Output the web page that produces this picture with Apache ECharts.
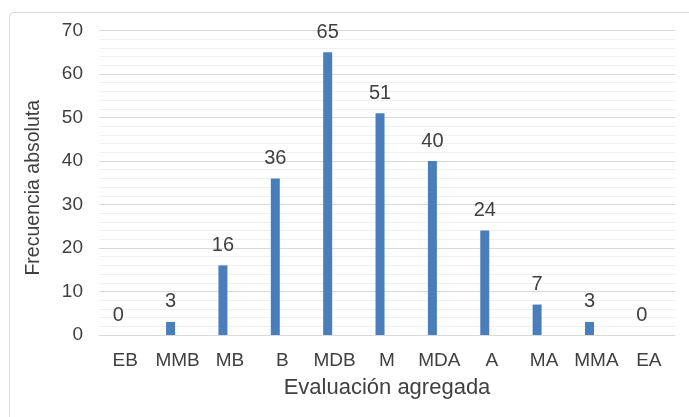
<!DOCTYPE html>
<html>
<head>
<meta charset="utf-8">
<script src="https://cdn.jsdelivr.net/npm/echarts@6/dist/echarts.min.js"></script>
<style>
html,body{margin:0;padding:0;background:#fff;}
#chart{width:689px;height:417px;}
</style>
</head>
<body>
<div id="chart"></div>
<script>
const categories = ['EB','MMB','MB','B','MDB','M','MDA','A','MA','MMA','EA'];
const values = [0,3,16,36,65,51,40,24,7,3,0];
const yTicks = {min:0, max:70, interval:10};
const xTitle = 'Evaluación agregada';
const yTitle = 'Frecuencia absoluta';

const chart = echarts.init(document.getElementById('chart'), null, {renderer:'canvas'});
const textColor = '#404040';
const font = 'Liberation Sans, Arial, sans-serif';
chart.setOption({
  animation:false,
  backgroundColor:'#ffffff',
  graphic:[{
    type:'rect', left:7, top:10,
    shape:{width:700, height:420, r:4},
    style:{fill:'none', stroke:'#d9d9d9', lineWidth:1}
  }],
  grid:{left:99, right:14, top:30.5, bottom:82, containLabel:false},
  xAxis:{
    type:'category', data:categories,
    axisLine:{show:true, lineStyle:{color:'#d9d9d9', width:1}},
    axisTick:{show:false},
    axisLabel:{color:textColor, fontSize:19, fontFamily:font, margin:16, interval:0},
    name:xTitle, nameLocation:'middle', nameGap:42,
    nameTextStyle:{color:textColor, fontSize:22, fontFamily:font}
  },
  yAxis:{
    type:'value', min:yTicks.min, max:yTicks.max, interval:yTicks.interval,
    axisLine:{show:false}, axisTick:{show:false},
    axisLabel:{color:textColor, fontSize:19, fontFamily:font, margin:16},
    splitLine:{show:true, lineStyle:{color:'#d9d9d9', width:1}},
    minorTick:{show:false, splitNumber:5},
    minorSplitLine:{show:true, lineStyle:{color:'#f0f0f0', width:1}},
    name:yTitle, nameLocation:'middle', nameGap:55, nameRotate:90,
    nameTextStyle:{color:textColor, fontSize:19.5, fontFamily:font, padding:[0,10,0,0]}
  },
  series:[{
    type:'bar', data:values, barWidth:9, barGap:'55%',
    itemStyle:{color:'#4a7ebb'},
    label:{show:true, position:'top', distance:10, color:textColor, fontSize:20, fontFamily:font}
  },{
    type:'bar', data:categories.map(()=>null), barWidth:9,
    itemStyle:{color:'transparent'}, label:{show:false}
  }]
});
</script>
</body>
</html>
